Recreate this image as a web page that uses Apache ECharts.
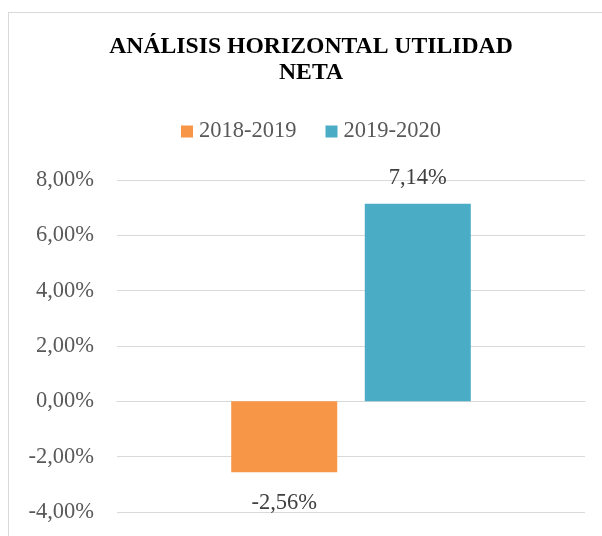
<!DOCTYPE html>
<html>
<head>
<meta charset="utf-8">
<script src="https://cdn.jsdelivr.net/npm/echarts@6/dist/echarts.min.js"></script>
<style>
  html, body { margin: 0; padding: 0; background: #fff; overflow: hidden; }
  #frame { position: absolute; left: 8px; top: 12px; width: 604px; height: 560px; border: 1px solid #d9d9d9; }
  #chart { width: 604px; height: 560px; }
</style>
</head>
<body>
<div id="frame"><div id="chart"></div></div>
<script>
  // datos
  const categories = ['Utilidad neta']
  const periods = ['2018-2019', '2019-2020']
  const values = [-2.56, 7.14]
  const colors = ['#F79646', '#4BACC6']

  const serif = "'Liberation Serif', 'Times New Roman', serif"
  const fmt = v => v.toFixed(2).replace('.', ',') + '%'

  const chart = echarts.init(document.getElementById('chart'))
  chart.setOption({
    animation: false,
    title: {
      text: 'ANÁLISIS HORIZONTAL UTILIDAD\nNETA',
      left: 'center',
      top: 16,
      textStyle: {
        fontFamily: serif,
        fontWeight: 'bold',
        fontSize: 23.7,
        lineHeight: 26,
        color: '#000'
      }
    },
    legend: {
      top: 102,
      left: 'center',
      itemWidth: 12,
      itemHeight: 12,
      itemGap: 29,
      icon: 'rect',
      textStyle: { fontFamily: serif, fontSize: 22.5, color: '#595959', padding: [0, 0, 0, 1] },
      data: periods
    },
    grid: { left: 108, right: 28, top: 167, bottom: 61 },
    xAxis: {
      type: 'category',
      data: categories,
      axisLine: { lineStyle: { color: '#d9d9d9' } },
      axisTick: { show: false },
      axisLabel: { show: false }
    },
    yAxis: {
      type: 'value',
      min: -4,
      max: 8,
      interval: 2,
      axisLine: { show: false },
      axisTick: { show: false },
      splitLine: { lineStyle: { color: '#d9d9d9' } },
      axisLabel: {
        margin: 23,
        fontFamily: serif,
        fontSize: 22.5,
        color: '#595959',
        formatter: fmt
      }
    },
    series: periods.map((name, i) => ({
      name: name,
      type: 'bar',
      barWidth: 106,
      barGap: '26%',
      itemStyle: { color: colors[i] },
      label: {
        show: true,
        position: values[i] < 0 ? 'bottom' : 'top',
        distance: values[i] < 0 ? 19 : 14,
        fontFamily: serif,
        fontSize: 22.5,
        color: '#404040',
        formatter: p => fmt(p.value)
      },
      data: [values[i]]
    }))
  })
</script>
</body>
</html>
